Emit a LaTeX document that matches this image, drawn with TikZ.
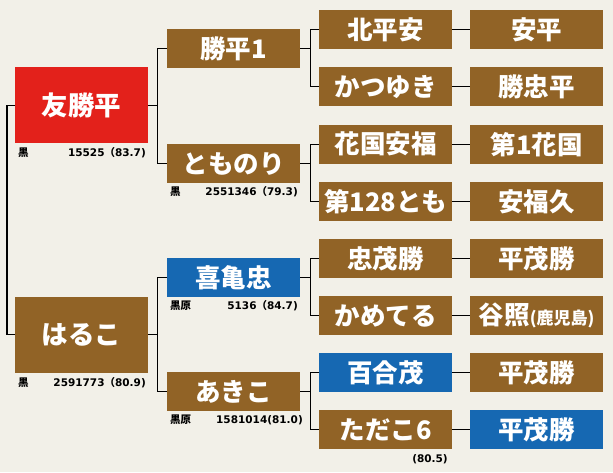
\documentclass[tikz,border=0pt]{standalone}
\usepackage{fontspec}
\newfontfamily\jp{Noto Sans CJK JP}
\newfontfamily\num{DejaVu Sans}
\definecolor{bg}{RGB}{242,240,232}
\definecolor{brn}{RGB}{145,99,38}
\definecolor{redb}{RGB}{227,33,27}
\definecolor{blub}{RGB}{22,104,178}
\begin{document}
\begin{tikzpicture}[x=1pt,y=-1pt,
  box/.style={fill=brn, text=white, inner sep=0pt, anchor=north west,
    minimum width=133pt, minimum height=39pt,
    font=\jp\bfseries\fontsize{25.5}{25.5}\selectfont},
  bigbox/.style={box, minimum height=76pt, font=\jp\bfseries\fontsize{26.5}{26.5}\selectfont},
  red/.style={fill=redb}, blue/.style={fill=blub},
  conn/.style={draw=black, line width=1.3pt},
  lbl/.style={inner sep=0pt, font=\num\bfseries\fontsize{10.5}{10.5}\selectfont, text=black},
  kj/.style={inner sep=0pt, font=\jp\bfseries\fontsize{10.5}{10.5}\selectfont, text=black}]
\fill[bg] (0,0) rectangle (613,472);
\useasboundingbox (0,0) rectangle (613,472);

% generation 1
\node[bigbox, red] (a) at (15,67) {友勝平};
\node[bigbox] (b) at (15,296.5) {はるこ};

% generation 2
\node[box] (aa) at (167,29) {勝平1};
\node[box] (ab) at (167,144) {とものり};
\node[box, blue] (ba) at (167,258) {喜亀忠};
\node[box] (bb) at (167,372) {あきこ};

% generation 3
\node[box] (aaa) at (319,10) {北平安};
\node[box] (aab) at (319,67) {かつゆき};
\node[box] (aba) at (319,124.5) {花国安福};
\node[box] (abb) at (319,182) {第128とも};
\node[box] (baa) at (319,239) {忠茂勝};
\node[box] (bab) at (319,296) {かめてる};
\node[box, blue] (bba) at (319,353) {百合茂};
\node[box] (bbb) at (319,410) {ただこ6};

% generation 4
\node[box] (aaaa) at (470,10) {安平};
\node[box] (aaba) at (470,67) {勝忠平};
\node[box] (abaa) at (470,124.5) {第1花国};
\node[box] (abba) at (470,182) {安福久};
\node[box] (baaa) at (470,239) {平茂勝};
\node[box] (baba) at (470,296) {谷照{\fontsize{17}{17}\selectfont(鹿児島)}};
\node[box] (bbaa) at (470,353) {平茂勝};
\node[box, blue] (bbba) at (470,410) {平茂勝};

% labels
\node[kj, anchor=west] (la1) at (18,153) {黒};
\node[lbl, anchor=east] (la2) at (146,153) {15525{\jp（}83.7)};
\node[kj, anchor=west] (lb1) at (18,383) {黒};
\node[lbl, anchor=east] (lb2) at (146,383) {2591773{\jp（}80.9)};
\node[kj, anchor=west] (lab1) at (170,192) {黒};
\node[lbl, anchor=east] (lab2) at (298,192) {2551346{\jp（}79.3)};
\node[kj, anchor=west] (lba1) at (170,306) {黒原};
\node[lbl, anchor=east] (lba2) at (298,306) {5136{\jp（}84.7)};
\node[kj, anchor=west] (lbb1) at (170,420) {黒原};
\node[lbl, anchor=east] (lbb2) at (303,420) {1581014(81.0)};
\node[lbl] (lbbb) at (430,459) {(80.5)};

% connectors
\draw[conn] (a.west) -- ++(-8,0) |- (b.west);
\draw[conn] (a.east) -- ++(9,0) coordinate (ja);
\draw[conn] (aa.west) -| (ja) |- (ab.west);
\draw[conn] (b.east) -- ++(9,0) coordinate (jb);
\draw[conn] (ba.west) -| (jb) |- (bb.west);
\foreach \p/\u/\v in {aa/aaa/aab, ab/aba/abb, ba/baa/bab, bb/bba/bbb}{
  \draw[conn] (\p.east) -- ++(10,0) coordinate (j\p);
  \draw[conn] (\u.west) -| (j\p) |- (\v.west);
}
\foreach \u in {aaa,aab,aba,abb,baa,bab,bba,bbb}{
  \draw[conn] (\u.east) -- (\u a.west);
}
\end{tikzpicture}
\end{document}
